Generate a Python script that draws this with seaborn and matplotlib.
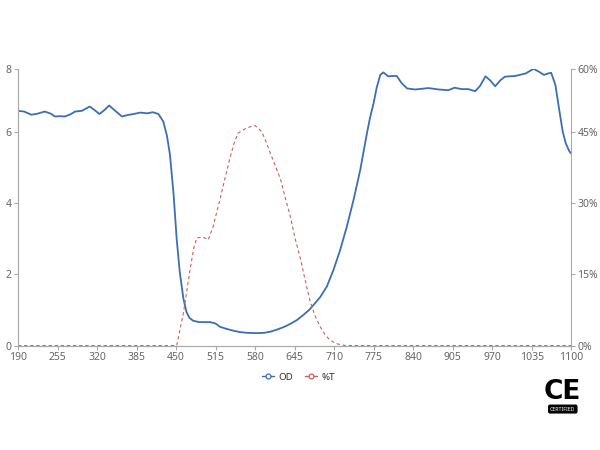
"""Optical density / transmission spectrum of a filter (OD left axis, %T right axis)."""

import matplotlib

matplotlib.use("Agg")
import matplotlib.pyplot as plt
import pandas as pd
import seaborn as sns
from matplotlib.lines import Line2D

# OD curve (wavelength in nm -> optical density)
OD_NM = [190, 200, 212, 222, 234, 244, 251, 260, 267, 276, 284, 295, 308, 316,
         324, 332, 340, 350, 361, 370, 380, 391, 402, 412, 421, 429, 435, 440,
         446, 451, 456, 462, 467, 472, 478, 488, 506, 515, 522, 533, 544, 555,
         566, 583, 595, 605, 616, 627, 638, 649, 660, 670, 676, 687, 698, 709,
         720, 731, 742, 753, 764, 769, 775, 780, 786, 791, 799, 806, 813, 821,
         830, 843, 855, 865, 882, 898, 908, 920, 931, 942, 950, 959, 967, 975,
         983, 991, 1008, 1025, 1038, 1047, 1055, 1062, 1067, 1074, 1079, 1086,
         1091, 1097, 1100]
OD_VAL = [6.60, 6.58, 6.49, 6.52, 6.58, 6.52, 6.44, 6.45, 6.44, 6.50, 6.58, 6.60,
          6.72, 6.62, 6.51, 6.62, 6.75, 6.60, 6.44, 6.48, 6.51, 6.55, 6.53, 6.56,
          6.51, 6.30, 5.90, 5.36, 4.24, 3.00, 2.08, 1.33, 0.95, 0.78, 0.70, 0.66,
          0.66, 0.62, 0.53, 0.47, 0.42, 0.38, 0.36, 0.35, 0.36, 0.39, 0.45, 0.52,
          0.61, 0.72, 0.87, 1.02, 1.14, 1.36, 1.66, 2.13, 2.69, 3.35, 4.10, 4.94,
          5.97, 6.40, 6.82, 7.25, 7.61, 7.68, 7.57, 7.58, 7.58, 7.38, 7.23, 7.20,
          7.22, 7.24, 7.20, 7.18, 7.25, 7.21, 7.21, 7.15, 7.30, 7.57, 7.45, 7.29,
          7.45, 7.56, 7.58, 7.65, 7.78, 7.70, 7.61, 7.65, 7.67, 7.33, 6.77, 6.02,
          5.69, 5.46, 5.40]

# Transmission curve (wavelength in nm -> %T)
T_NM = [190, 451, 462, 473, 479, 484, 494, 503, 511, 522, 530, 538, 545, 552,
        566, 580, 591, 598, 605, 613, 622, 630, 638, 646, 655, 662, 670, 678,
        687, 695, 703, 712, 720, 730, 1100]
T_VAL = [0, 0, 6.8, 16.0, 20.5, 22.7, 22.9, 22.3, 25.1, 30.7, 35.0, 39.2, 42.5,
         44.8, 45.9, 46.4, 45.1, 43.0, 40.6, 38.0, 35.0, 31.0, 27.2, 22.5, 18.1,
         14.0, 9.6, 6.5, 4.0, 2.3, 1.2, 0.5, 0.2, 0, 0]

X_TICKS = [190, 255, 320, 385, 450, 515, 580, 645, 710, 775, 840, 905, 970, 1035, 1100]
OD_TICK_LABELS = ["0", "2", "4", "6", "8"]
T_TICK_LABELS = ["0%", "15%", "30%", "45%", "60%"]

BLUE = "#3c6eb4"
RED = "#c9605c"
GREY_TXT = "#666666"
GREY_AX = "#aaaaaa"
OD_TOP = 7.78  # top of the value axis (labelled "8" in the source chart)

sns.set_theme(style="white")
plt.rcParams["font.family"] = ["Noto Sans", "DejaVu Sans"]

od = pd.DataFrame({"nm": OD_NM, "OD": OD_VAL})
tr = pd.DataFrame({"nm": T_NM, "T": T_VAL})

fig = plt.figure(figsize=(6, 4.5), dpi=100)
ax = fig.add_axes([0.03, 0.232, 0.922, 0.615])
ax2 = ax.twinx()

sns.lineplot(data=od, x="nm", y="OD", color=BLUE, linewidth=1.3, ax=ax)
sns.lineplot(data=tr, x="nm", y="T", color=RED, linewidth=0.8,
             linestyle=(0, (3, 2.5)), ax=ax2)

ax.set_xlim(190, 1100)
ax.set_ylim(0, OD_TOP)
ax2.set_ylim(0, OD_TOP * 7.5)
ax.set_xticks(X_TICKS)
ax.set_xticklabels([str(v) for v in X_TICKS])
ax.set_yticks([0, 2, 4, 6, OD_TOP])
ax.set_yticklabels(OD_TICK_LABELS)
ax2.set_yticks([0, 15, 30, 45, OD_TOP * 7.5])
ax2.set_yticklabels(T_TICK_LABELS)

for a in (ax, ax2):
    a.set_xlabel("")
    a.set_ylabel("")
    a.grid(False)
    for side in a.spines:
        a.spines[side].set_color(GREY_AX)
        a.spines[side].set_linewidth(0.8)
    a.spines["top"].set_visible(False)
    a.tick_params(colors=GREY_AX, labelcolor=GREY_TXT, labelsize=7.5,
                  length=3, width=0.8, pad=1.5)
ax.spines["right"].set_visible(False)
ax.tick_params(axis="y", left=True)
ax.tick_params(axis="x", bottom=True)
ax2.tick_params(axis="y", right=True)

handles = [
    Line2D([], [], color=BLUE, linewidth=1, marker="o", markersize=3.5,
           markerfacecolor="white", markeredgewidth=0.9),
    Line2D([], [], color=RED, linewidth=1, marker="o", markersize=3.5,
           markerfacecolor="white", markeredgewidth=0.9),
]
fig.legend(handles, ["OD", "%T"], loc="center", bbox_to_anchor=(0.497, 0.162),
           ncol=2, frameon=False, fontsize=7, handlelength=1.3,
           handletextpad=0.4, columnspacing=1.2, labelcolor="#333333")

# CE certification mark
fig.text(0.938, 0.128, "CE", ha="center", va="center", fontsize=19,
         family="DejaVu Sans", fontweight="bold", color="black")
fig.text(0.938, 0.091, "CERTIFIED", ha="center", va="center", fontsize=3.8,
         fontweight="bold", color="white",
         bbox=dict(boxstyle="round,pad=0.25", fc="black", ec="black"))

fig.savefig("out.png", dpi=100, facecolor="white")
